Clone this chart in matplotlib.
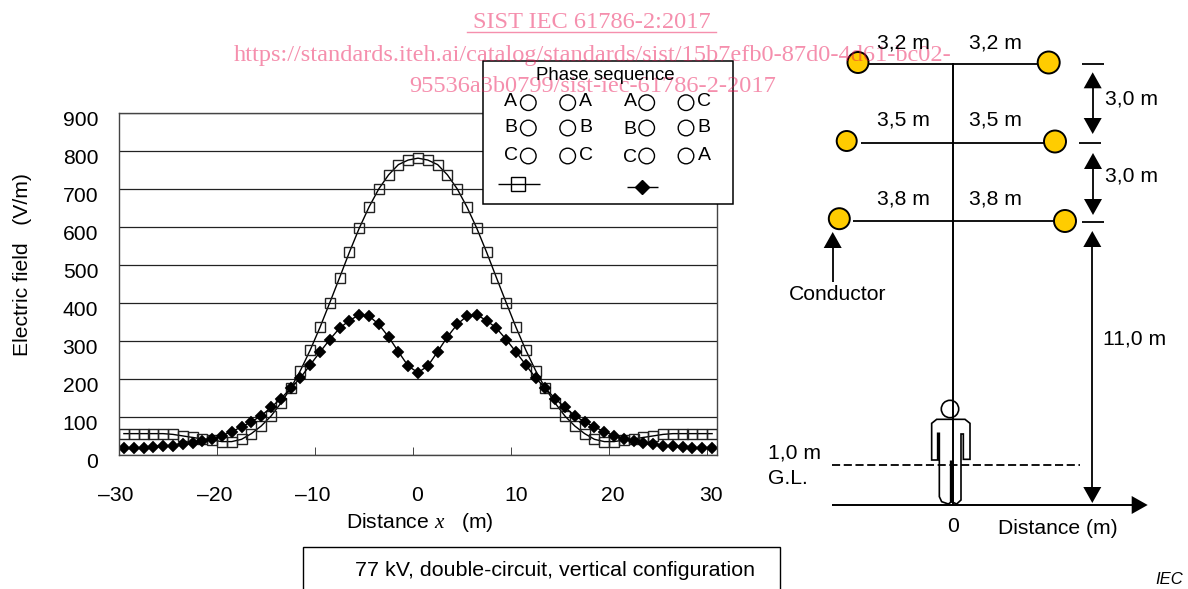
import matplotlib
matplotlib.use('Agg')
import matplotlib.pyplot as plt
from matplotlib.patches import Circle, Polygon, Rectangle
from matplotlib.transforms import ScaledTranslation

plt.rcParams['font.family'] = ['Liberation Sans', 'DejaVu Sans']
plt.rcParams['mathtext.fontset'] = 'custom'
plt.rcParams['mathtext.it'] = 'Liberation Serif:italic'

# distance along the ground, one point per metre
distance = list(range(-30, 31))

same_phase = [55, 55, 55, 55, 55, 53, 49, 45, 41, 38, 34, 34, 40, 55, 75, 101, 135, 174, 221, 275,
              335, 400, 466, 533, 596, 652, 700, 737, 764, 776, 781,
              776, 764, 737, 700, 652, 596, 533, 466, 400, 335, 275, 221, 174, 135, 101,
              75, 55, 40, 34, 34, 38, 41, 45, 49, 53, 55, 55, 55, 55, 55]
reverse_phase = [16, 16, 18, 20, 23, 23, 27, 31, 36, 40, 50, 60, 73, 86, 102, 124, 147, 174, 202, 236,
                 270, 303, 333, 353, 368, 365, 343, 310, 271, 233, 216,
                 233, 271, 310, 343, 365, 368, 353, 333, 303, 270, 236, 202, 174, 147, 124,
                 102, 86, 73, 60, 50, 40, 36, 31, 27, 23, 23, 20, 18, 16, 16]

x_ticks = [-30.5, -20.5, -10.5, -0.5, 9.5, 19.5, 29.5]
x_labels = ['\u201330', '\u201320', '\u201310', '0', '10', '20', '30']
x_label_shift = [-3, -2, -2, 4, 5, 4, 4]
y_ticks = [0, 100, 200, 300, 400, 500, 600, 700, 800, 900]

FS = 15.2
W, H = 1188, 589

fig = plt.figure(figsize=(W / 100, H / 100), dpi=100)

# chart, placed by pixels of the reference
left, right, top, bottom = 119, 717, 113, 454.5
ax = fig.add_axes([left / W, 1 - bottom / H, (right - left) / W, (bottom - top) / H])
ax.plot(distance, same_phase, color='black', lw=1.0, marker='s', ms=7, mfc='none', mec='#222222', mew=1.0)
ax.plot(distance, reverse_phase, color='black', lw=1.0, marker='D', ms=6.2, mfc='black', mec='black', mew=0.3)
ax.set_xlim(-30.5, 30.5)
ax.set_ylim(0, 900)
ax.set_xticks(x_ticks)
ax.set_xticklabels(x_labels, fontsize=FS)
ax.set_yticks(y_ticks)
ax.set_yticklabels([str(v) for v in y_ticks], fontsize=FS)
ax.grid(axis='y', color='#222222', lw=0.9)
ax.set_axisbelow(True)
ax.tick_params(axis='x', direction='in', length=5.8, width=0.7, color='#444444', pad=22.5)
ax.tick_params(axis='y', length=0, pad=15)
for s in ax.spines.values():
    s.set_linewidth(1.0)
    s.set_color('#444444')

# tick labels sit a little away from their ticks in the reference
for lab, dx in zip(ax.get_xticklabels(), x_label_shift):
    lab.set_transform(lab.get_transform() + ScaledTranslation(dx / 100, 0, fig.dpi_scale_trans))
for lab in ax.get_yticklabels():
    lab.set_transform(lab.get_transform() + ScaledTranslation(0, -6 / 100, fig.dpi_scale_trans))

ax.set_xlabel('Distance $x$   (m)', fontsize=FS)
ax.xaxis.set_label_coords((420 - left) / (right - left), (bottom - 522) / (bottom - top))
ax.xaxis.label.set_verticalalignment('center')
ax.set_ylabel('Electric field   (V/m)', fontsize=FS)
ax.yaxis.set_label_coords((22 - left) / (right - left), (bottom - 265) / (bottom - top))
ax.yaxis.label.set_verticalalignment('center')

# everything else is drawn on a full figure overlay in pixel coordinates
dg = fig.add_axes([0, 0, 1, 1])
dg.set_xlim(0, W)
dg.set_ylim(H, 0)
dg.axis('off')
dg.patch.set_alpha(0)


def label(x, y, s, ha='center', size=FS, **kw):
    dg.text(x, y, s, ha=ha, va='center', fontsize=size, color='black', zorder=6, **kw)


def line(xs, ys, lw=1.3, **kw):
    dg.plot(xs, ys, color='black', lw=lw, solid_capstyle='butt', zorder=2, **kw)


def head(x, y, dx, dy):
    # triangle with its tip at x,y pointing along dx,dy
    hl, hw = 16, 9
    bx, by = x - dx * hl, y - dy * hl
    dg.add_patch(Polygon([(x, y), (bx - dy * hw, by - dx * hw), (bx + dy * hw, by + dx * hw)],
                         closed=True, fc='black', ec='none', zorder=3))


def conductor(x, y, r):
    dg.add_patch(Circle((x, y), r, fc='#FFCC00', ec='black', lw=1.4, zorder=3))


# legend box
dg.add_patch(Rectangle((482.7, 61), 250.3, 143, fc='white', ec='black', lw=1.1, zorder=1))
label(605.7, 75, 'Phase sequence', size=13.4)
legend_x = [528.3, 567.7, 646.7, 686]
legend_y = [102.7, 128, 156]
for lx in legend_x:
    for ly in legend_y:
        dg.add_patch(Circle((lx, ly), 7.8, fc='none', ec='black', lw=1.0, zorder=3))
for ly, a, b, c, d in zip([101, 128, 156], 'ABC', 'ABC', 'ABC', 'CBA'):
    label(510.7, ly, a, size=14)
    label(585.7, ly, b, size=14)
    label(630, ly + 1, c, size=14)
    label(704, ly, d, size=14)
line([497.7, 540], [184.3, 184.3], lw=1.0)
dg.plot([518.3], [184.3], marker='s', ms=9.5, mfc='none', mec='black', mew=1.0, zorder=3)
line([627.3, 657.7], [187.3, 187.3], lw=1.0)
dg.plot([642], [187.3], marker='D', ms=6.8, mfc='black', mec='black', zorder=3)

# tower
line([953, 953], [63, 505], lw=1.4)
line([858, 1048], [63.5, 63.5])
line([861, 1055], [142.7, 142.7])
line([852.7, 1065], [220.7, 220.7])
conductor(858, 62.5, 10.5)
conductor(1048.7, 62.5, 11)
conductor(846.7, 141, 10)
conductor(1055, 141.5, 11)
conductor(839.3, 218.7, 10.5)
conductor(1065, 221, 11)

# dimension marks and arrows
line([1082, 1104], [63.5, 63.5])
line([1079, 1101], [142.7, 142.7])
line([1082, 1104], [222, 222])
line([1092.7, 1092.7], [80, 126])
head(1092.7, 72.3, 0, -1)
head(1092.7, 134, 0, 1)
line([1093, 1093], [160, 207])
head(1093, 153, 0, -1)
head(1093, 215, 0, 1)
line([1092.3, 1092.3], [240, 495])
head(1092.3, 231, 0, -1)
head(1092.3, 503, 0, 1)
line([832.7, 832.7], [240, 282])
head(832.7, 232, 0, -1)

# ground and the 1 m line
line([831.7, 1135], [505, 505], lw=1.4)
head(1147.7, 505, 1, 0)
dg.plot([832, 1080], [464.7, 464.7], color='black', lw=1.3, dashes=(4.5, 2), zorder=2)

# person, outline
body = [(515, 130), (530, 118), (615, 118), (630, 130), (630, 238), (610, 238), (610, 162), (603, 162),
        (603, 360), (590, 372), (575, 365), (565, 372), (545, 365), (538, 350), (538, 160), (533, 160),
        (533, 240), (515, 240)]
dg.add_patch(Polygon([(760 + x / 3, 380 + y / 3) for x, y in body], closed=True, fc='none', ec='black',
                     lw=1.2, zorder=3))
dg.add_patch(Circle((950, 409), 8.7, fc='none', ec='black', lw=1.2, zorder=3))
line([951, 951], [460, 502], lw=2.4)

# diagram texts
for y, s in [(43, '3,2 m'), (120, '3,5 m'), (199, '3,8 m')]:
    label(903, y, s)
    label(995, y, s)
label(1131.7, 99, '3,0 m')
label(1131.7, 175.7, '3,0 m')
label(1135, 339, '11,0 m')
label(838, 294, 'Conductor')
label(794, 452.7, '1,0 m')
label(768, 478, 'G.L.', ha='left')
label(952.7, 526.7, '0')
label(1058, 528, 'Distance (m)')
label(1169, 579, 'IEC', size=12, style='italic')

# caption box, runs off the bottom of the page
dg.add_patch(Rectangle((303, 547), 477, 60, fc='white', ec='black', lw=1.0, zorder=1))
label(555, 571, '77 kV, double-circuit, vertical configuration', size=15.4)

# pink watermark from the source document
mark = dict(ha='center', va='center', fontsize=17.6, family='Liberation Serif', color='#E9084B', alpha=0.45, zorder=4)
dg.text(592, 22, 'SIST IEC 61786-2:2017', **mark)
dg.plot([467, 716], [32, 32], color='#E9084B', alpha=0.45, lw=1.0, zorder=4)
dg.text(592.5, 55, 'https://standards.iteh.ai/catalog/standards/sist/15b7efb0-87d0-4d61-bc02-', **mark)
dg.text(592.5, 87, '95536a3b0799/sist-iec-61786-2-2017', **mark)

fig.savefig('out.png', dpi=100)
